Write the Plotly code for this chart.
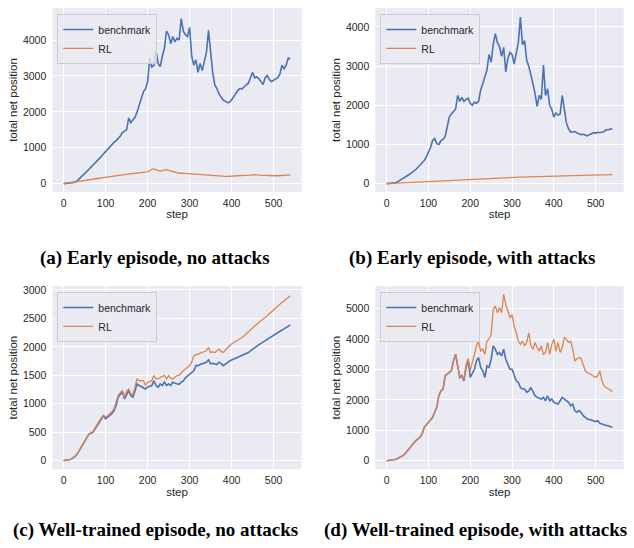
import plotly.graph_objects as go

steps = list(range(0, 541, 5))

bench_a = [
    0, 5, 12, 18, 25, 35, 60, 110, 160, 220,
    280, 340, 400, 450, 510, 580, 620, 680, 760, 830,
    900, 960, 1030, 1090, 1150, 1200, 1260, 1330, 1420, 1460,
    1500, 1830, 1700, 1780, 1850, 2000, 2200, 2400, 2560, 2640,
    2840, 3500, 3250, 3300, 3700, 3350, 3260, 3550, 3770, 4250,
    4150, 3900, 4100, 3950, 4050, 4000, 4600, 4250, 4150, 4100,
    4350, 3550, 3300, 3450, 3100, 3350, 3150, 3400, 3650, 4270,
    3700, 3100, 2750, 2650, 2500, 2420, 2330, 2300, 2260, 2270,
    2330, 2420, 2520, 2600, 2650, 2640, 2700, 2760, 2800, 2950,
    3100, 2950, 2980, 2920, 2850, 2760, 2950, 3010, 2900, 2840,
    2880, 2920, 2950, 3050, 3300, 3200, 3300, 3500, 3480,
]
rl_a = [
    0, 8, 15, 22, 30, 38, 45, 52, 60, 70,
    85, 95, 105, 115, 120, 130, 140, 150, 160, 170,
    180, 195, 205, 210, 215, 225, 230, 240, 245, 250,
    255, 265, 270, 275, 285, 290, 300, 310, 320, 325,
    330, 360, 400, 410, 380, 370, 350, 360, 380, 390,
    370, 350, 330, 320, 300, 290, 295, 290, 285, 280,
    270, 260, 255, 250, 248, 245, 250, 245, 240, 240,
    235, 230, 225, 220, 215, 210, 205, 200, 200, 200,
    205, 210, 215, 220, 225, 225, 235, 230, 240, 240,
    250, 255, 245, 240, 235, 230, 230, 225, 220, 215,
    215, 220, 220, 225, 235, 240, 245, 250, 245,
]
bench_b = [
    0, 3, 8, 12, 18, 40, 70, 100, 130, 160,
    200, 240, 280, 310, 360, 420, 480, 540, 590, 680,
    780, 920, 1100, 1150, 1020, 1000, 1100, 1130, 1200, 1500,
    1700, 1780, 1850, 1900, 2250, 2100, 2200, 2100, 2150, 2180,
    2050, 2000, 2080, 2050, 2100, 2400, 2550, 2700, 2900, 3300,
    3100, 3550, 3830, 3600, 3500, 3250, 3480, 2850, 3200, 3350,
    3300, 3050, 3370, 3600, 4250, 3550, 3650, 3150, 3000, 2800,
    2550, 2300, 1970, 2250, 2150, 3030, 2250, 2420, 2000, 1900,
    1700, 1800, 1750, 1780, 2250, 1900, 1550, 1400, 1320, 1320,
    1330, 1300, 1280, 1250, 1260, 1240, 1220, 1250, 1270, 1300,
    1290, 1310, 1300, 1320, 1330, 1380, 1370, 1400, 1390,
]
rl_b = [
    0, 3, 6, 9, 12, 15, 18, 21, 24, 27,
    30, 33, 36, 39, 42, 45, 48, 51, 54, 57,
    60, 63, 66, 69, 72, 75, 78, 81, 84, 87,
    90, 93, 96, 98, 100, 102, 104, 106, 109, 112,
    115, 118, 120, 123, 126, 129, 132, 135, 138, 141,
    143, 145, 147, 149, 151, 153, 154, 156, 158, 159,
    160, 162, 163, 165, 166, 168, 169, 171, 172, 174,
    175, 177, 178, 180, 181, 182, 183, 185, 186, 188,
    190, 191, 193, 194, 196, 197, 199, 200, 202, 203,
    205, 206, 208, 209, 211, 212, 214, 215, 217, 218,
    220, 221, 223, 224, 226, 227, 229, 230, 232,
]
bench_c = [
    0, 5, 12, 20, 35, 60, 93, 150, 210, 270,
    327, 390, 461, 480, 500, 560, 620, 680, 735, 790,
    735, 760, 794, 830, 880, 970, 1115, 1170, 1200, 1085,
    1170, 1230, 1145, 1115, 1230, 1350, 1320, 1300, 1290, 1260,
    1290, 1300, 1320, 1405, 1320, 1290, 1350, 1320, 1380, 1320,
    1350, 1320, 1380, 1360, 1350, 1340, 1380, 1400, 1455, 1490,
    1525, 1550, 1580, 1670, 1670, 1690, 1700, 1710, 1730, 1770,
    1700, 1710, 1700, 1690, 1730, 1710, 1670, 1700, 1730, 1750,
    1770, 1785, 1800, 1815, 1830, 1850, 1870, 1885, 1900, 1930,
    1960, 1990, 2020, 2040, 2060, 2085, 2105, 2130, 2150, 2175,
    2195, 2220, 2245, 2270, 2295, 2315, 2340, 2365, 2385,
]
rl_c = [
    0, 5, 12, 20, 35, 60, 93, 150, 210, 270,
    330, 395, 470, 490, 510, 575, 640, 700, 760, 795,
    765, 790, 823, 860, 910, 1010, 1145, 1200, 1230, 1115,
    1220, 1260, 1175, 1160, 1290, 1435, 1405, 1400, 1405, 1320,
    1380, 1390, 1405, 1495, 1435, 1440, 1465, 1480, 1495, 1435,
    1495, 1450, 1435, 1470, 1495, 1500, 1550, 1580, 1610, 1640,
    1670, 1730, 1845, 1860, 1875, 1880, 1900, 1910, 1930, 1990,
    1900, 1910, 1900, 1930, 1960, 1920, 1900, 1940, 1990, 2020,
    2050, 2070, 2090, 2110, 2135, 2165, 2195, 2225, 2255, 2290,
    2330, 2365, 2400, 2430, 2460, 2490, 2515, 2550, 2585, 2625,
    2660, 2690, 2720, 2750, 2780, 2810, 2840, 2870, 2900,
]
bench_d = [
    0, 5, 12, 20, 44, 70, 98, 135, 175, 250,
    338, 420, 500, 580, 666, 720, 775, 885, 1100, 1180,
    1266, 1375, 1430, 1595, 1760, 2140, 2300, 2360, 2795, 2850,
    2900, 2960, 3290, 3500, 3120, 2740, 2795, 2630, 3070, 3340,
    2740, 2900, 3010, 3290, 3395, 3070, 2960, 2740, 3120, 3070,
    3340, 3780, 3670, 3500, 3560, 3450, 3670, 3340, 3180, 3010,
    3010, 2850, 2630, 2575, 2410, 2360, 2360, 2250, 2300, 2410,
    2250, 2140, 2085, 2060, 2030, 2085, 1975, 2140, 1975, 2030,
    1920, 1890, 1865, 1975, 2085, 2030, 1975, 1920, 1810, 1865,
    1650, 1595, 1650, 1595, 1485, 1430, 1375, 1360, 1340, 1320,
    1290, 1320, 1235, 1210, 1190, 1175, 1160, 1130, 1100,
]
rl_d = [
    0, 5, 12, 20, 44, 70, 98, 135, 175, 250,
    338, 420, 500, 580, 666, 720, 775, 885, 1100, 1180,
    1266, 1375, 1430, 1595, 1760, 2140, 2300, 2360, 2795, 2850,
    2900, 2960, 3290, 3500, 3150, 2760, 2820, 2660, 3150, 3360,
    2960, 3290, 3500, 3780, 3920, 3610, 3670, 3500, 3940, 4000,
    4160, 4980, 5090, 4870, 5030, 4870, 5470, 5140, 4920, 4700,
    4810, 4430, 4210, 3940, 3830, 3940, 3780, 3890, 4210, 3780,
    3670, 3890, 3720, 3610, 3780, 3500, 3560, 3890, 3500, 3830,
    4000, 3610, 3890, 3560, 3720, 4050, 4000, 3890, 3940, 3670,
    3290, 3340, 3400, 3370, 3120, 2960, 2900, 2870, 2830, 2780,
    2740, 2795, 2960, 2630, 2470, 2410, 2360, 2300, 2280,
]

captions = [
    "(a) Early episode, no attacks",
    "(b) Early episode, with attacks",
    "(c) Well-trained episode, no attacks",
    "(d) Well-trained episode, with attacks",
]
series_names = ["benchmark", "RL"]
x_ticks = [0, 100, 200, 300, 400, 500]
y_ticks = [
    [0, 1000, 2000, 3000, 4000],
    [0, 1000, 2000, 3000, 4000],
    [0, 500, 1000, 1500, 2000, 2500, 3000],
    [0, 1000, 2000, 3000, 4000, 5000],
]
y_ranges = [[-233, 4895], [-214, 4484], [-152, 3070], [-280, 5750]]

W, H = 634, 548
BLUE = "#4C72B0"
ORANGE = "#DD8452"
TXT = "#262626"
SANS = "Liberation Sans, Arial, sans-serif"
TICKFONT = dict(family=SANS, size=10.5, color=TXT)
TITLEFONT = dict(family=SANS, size=11.5, color=TXT)

# panel pixel boxes (left, right, top, bottom)
boxes = [
    (52.3, 301.7, 6, 190.7),
    (375.3, 623.7, 6, 190.7),
    (52.3, 301.7, 285, 469),
    (375.3, 623.7, 285, 469),
]

data = [(bench_a, rl_a), (bench_b, rl_b), (bench_c, rl_c), (bench_d, rl_d)]

fig = go.Figure()
layout = dict(
    width=W, height=H,
    margin=dict(l=0, r=0, t=0, b=0),
    paper_bgcolor="white",
    plot_bgcolor="#EAEAF2",
    showlegend=True,
    hovermode=False,
    annotations=[],
)

for i, (bench, rl) in enumerate(data):
    n = "" if i == 0 else str(i + 1)
    lg = "legend" + n
    fig.add_trace(go.Scatter(x=steps, y=bench, mode="lines", name=series_names[0],
                             line=dict(color=BLUE, width=1.6), xaxis="x" + n, yaxis="y" + n,
                             legend=lg))
    fig.add_trace(go.Scatter(x=steps, y=rl, mode="lines", name=series_names[1],
                             line=dict(color=ORANGE, width=1.3), xaxis="x" + n, yaxis="y" + n,
                             legend=lg))
    l, r, t, b = boxes[i]
    layout["xaxis" + n] = dict(
        domain=[l / W, r / W], anchor="y" + n, range=[-27, 567],
        tickvals=x_ticks, showgrid=True, gridcolor="white", gridwidth=1,
        zeroline=False, showline=False, ticks="", tickfont=TICKFONT,
        ticklabelstandoff=3,
        title=dict(text="step", font=TITLEFONT, standoff=1),
    )
    layout["yaxis" + n] = dict(
        domain=[1 - b / H, 1 - t / H], anchor="x" + n, range=y_ranges[i],
        tickvals=y_ticks[i], showgrid=True, gridcolor="white", gridwidth=1,
        zeroline=False, showline=False, ticks="", tickfont=TICKFONT,
        ticklabelstandoff=5,
        title=dict(text="total net position", font=TITLEFONT, standoff=2),
    )
    layout[lg] = dict(
        x=(l + 5) / W, y=1 - (t + 6) / H, xanchor="left", yanchor="top",
        bgcolor="rgba(234,234,242,0.8)", bordercolor="#cccccc", borderwidth=1,
        font=dict(family=SANS, size=10.5, color=TXT),
        itemwidth=30, tracegroupgap=0,
    )

cap_pos = [(155, 257), (472, 257), (155, 530), (475, 530)]
for (cx, cy), text in zip(cap_pos, captions):
    layout["annotations"].append(dict(
        text="<b>" + text + "</b>", x=cx / W, y=1 - cy / H, xref="paper", yref="paper",
        xanchor="center", yanchor="middle", showarrow=False,
        font=dict(family="Liberation Serif, Times New Roman, serif", size=19, color="black"),
    ))

fig.update_layout(**layout)
fig.write_html("out.html", config={"displayModeBar": False},
               post_script="document.body.style.margin='0px';document.body.style.overflow='hidden';")
